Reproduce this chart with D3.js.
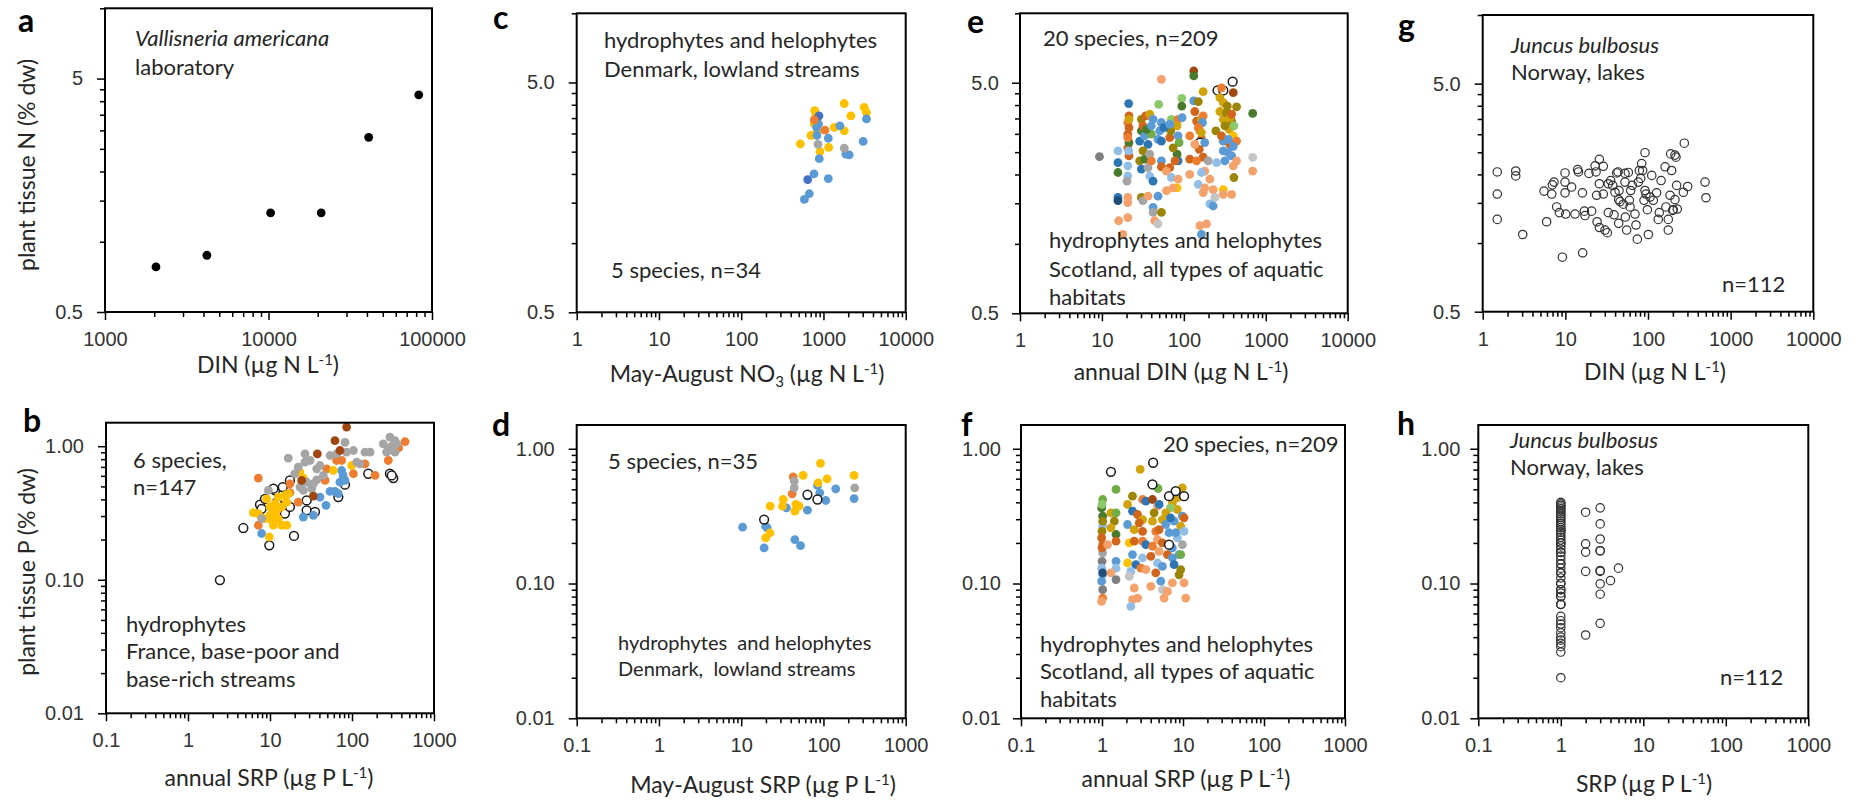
<!DOCTYPE html>
<html>
<head>
  <meta charset="utf-8">
  <title>Plant tissue N and P against water nutrients</title>
  <script src="https://d3js.org/d3.v7.min.js"></script>
  <style>
    body { margin: 0; background: #fff; }
    svg { display: block; font-family: Lato, 'Open Sans', sans-serif; }
    .tick text { font-size: 20px; fill: #333; }
    .tick line { stroke: #000; stroke-width: 1.5px; }
    .note { font-size: 22px; fill: #262626; }
    .atitle { font-size: 23px; fill: #262626; }
    .plabel { font-size: 32px; font-weight: bold; fill: #000; }
  </style>
</head>
<body>
<svg id="chart"></svg>
<script>
// series colours, index = species code used in the data arrays (0 = open circle)
var speciesColors = ["#ffffff", "#ED7D31", "#F4A16C", "#5B9BD5", "#2E75B6", "#1F4E79",
  "#70AD47", "#4A7A2C", "#8CC96A", "#D1A30C", "#9C8506", "#D2651C", "#A0470F",
  "#A5A5A5", "#7F7F7F", "#92BEE6", "#FFC000", "#C4C4C4", "#4472C4"];

// a: Vallisneria americana, DIN vs tissue N
var aData = [[2050, 0.78], [4200, 0.875], [10300, 1.33], [21000, 1.33], [41000, 2.8], [83000, 4.26]];

// b: France, annual SRP vs tissue P  [SRP, P, species]
var bData = [
  [4.73, 0.244, 0], [9.81, 0.181, 0], [19.6, 0.213, 0], [7.55, 0.365, 0], [8.69, 0.404, 0], [11.5, 0.467, 0],
  [14.3, 0.494, 0], [17.5, 0.554, 0], [13.2, 0.404, 0], [15.2, 0.313, 0], [17.5, 0.351, 0], [28.0, 0.393, 0],
  [28.0, 0.331, 0], [35.4, 0.322, 0], [68.1, 0.416, 0], [82.1, 0.515, 0], [158, 0.622, 0], [290, 0.622, 0],
  [319, 0.577, 0], [305, 0.604, 0], [2.45, 0.0995, 0], [11.0, 0.481, 0], [7.91, 0.34, 0], [12.1, 0.38, 0],
  [7.2, 0.577, 1], [17.5, 0.523, 1], [22.1, 0.382, 1], [7.2, 0.256, 1], [49.1, 0.677, 1], [104, 0.622, 1],
  [144, 0.738, 1], [191, 0.604, 1], [277, 0.782, 1], [443, 1.08, 1], [74.8, 0.782, 1], [65.0, 0.782, 1],
  [46.9, 0.554, 1], [370, 0.97, 1], [17.5, 0.45, 1],
  [7.91, 0.222, 3], [25.5, 0.295, 3], [33.8, 0.304, 3], [48.2, 0.361, 3], [40.7, 0.416, 3], [53.9, 0.459, 3],
  [68.1, 0.441, 3], [74.8, 0.658, 3], [82.1, 0.554, 3], [71.3, 0.538, 3], [62.0, 0.459, 3], [78.0, 0.604, 3],
  [6.26, 0.318, 16], [9.10, 0.404, 16], [10.0, 0.351, 16], [11.5, 0.371, 16], [12.1, 0.331, 16], [10.0, 0.304, 16],
  [8.69, 0.287, 16], [10.5, 0.279, 16], [13.9, 0.256, 16], [16.0, 0.256, 16], [9.81, 0.209, 16], [12.6, 0.416, 16],
  [15.2, 0.428, 16], [23.2, 0.640, 16], [25.5, 0.577, 16], [59.2, 0.658, 16], [99.1, 0.717, 16], [16.0, 0.382, 16],
  [11.5, 0.304, 16], [7.20, 0.313, 16], [13.9, 0.351, 16], [11.0, 0.256, 16], [16.7, 0.441, 16], [12.6, 0.287, 16],
  [16.7, 0.813, 13], [26.7, 0.877, 13], [30.8, 0.782, 13], [37.1, 0.677, 13], [44.7, 0.604, 13], [22.1, 0.697, 13],
  [28.0, 0.538, 13], [32.2, 0.481, 13], [9.54, 0.467, 13], [7.91, 0.287, 13], [53.9, 0.852, 13], [65.0, 0.877, 13],
  [82.1, 1.07, 13], [86.0, 0.902, 13], [104, 0.929, 13], [114, 0.760, 13], [144, 0.902, 13], [166, 0.902, 13],
  [241, 1.04, 13], [290, 1.17, 13], [305, 0.955, 13], [334, 0.902, 13], [351, 1.04, 13], [264, 0.902, 13],
  [334, 1.10, 13], [33.8, 0.523, 13], [23.2, 0.494, 13], [25.5, 0.467, 13], [125, 0.738, 13], [40.7, 0.717, 13],
  [26.7, 0.760, 13], [20.0, 0.62, 13], [37.1, 0.56, 13], [305, 1.0, 13], [277, 0.955, 13],
  [24.3, 0.554, 12], [33.8, 0.423, 12], [37.8, 0.877, 12], [62.0, 1.10, 12], [71.3, 0.929, 12], [86.0, 1.39, 12]
];

// c: Denmark, May-August NO3 vs tissue N
var cData = [
  [782, 3.77, 16], [1790, 4.05, 16], [3125, 3.90, 16], [3337, 3.70, 16], [2155, 3.58, 16], [705, 2.94, 16],
  [524, 2.70, 16], [907, 2.50, 16], [1156, 2.61, 16], [1353, 3.19, 16], [1790, 3.08, 16], [774, 3.30, 16],
  [834, 3.03, 16], [810, 3.6, 16],
  [3337, 3.47, 3], [1585, 3.24, 3], [826, 3.19, 3], [834, 2.94, 3], [1145, 2.86, 3], [3040, 2.77, 3],
  [890, 2.33, 3], [1875, 2.44, 3], [2056, 2.42, 3], [767, 2.00, 3], [1145, 1.91, 3], [586, 1.55, 3],
  [673, 1.64, 3], [870, 3.3, 3],
  [882, 3.58, 18], [643, 1.89, 18],
  [774, 3.44, 1], [1042, 3.10, 1],
  [858, 2.69, 13], [1790, 2.59, 13]
];

// d: Denmark, May-August SRP vs tissue P
var dData = [
  [10.4, 0.262, 3], [19.0, 0.184, 3], [20.7, 0.259, 3], [35.5, 0.364, 3], [44.9, 0.212, 3], [52.6, 0.191, 3],
  [63.9, 0.445, 3], [63.9, 0.350, 3], [84.6, 0.534, 3], [90.2, 0.471, 3], [106.7, 0.413, 3], [141, 0.504, 3],
  [236, 0.427, 3], [19.8, 0.266, 3],
  [19.8, 0.218, 16], [22.3, 0.237, 16], [22.5, 0.375, 16], [32.4, 0.420, 16], [31.8, 0.375, 16], [44.9, 0.344, 16],
  [50.6, 0.375, 16], [56.6, 0.634, 16], [92.0, 0.778, 16], [110.8, 0.598, 16], [236, 0.634, 16], [46.2, 0.386, 16],
  [86.1, 0.559, 16],
  [42.8, 0.619, 1], [41.6, 0.463, 1],
  [44.1, 0.575, 13], [44.1, 0.513, 13], [240, 0.513, 13],
  [19.0, 0.298, 0], [63.9, 0.457, 0], [84.6, 0.420, 0]
];

// e: Scotland, annual DIN vs tissue N
var eData = [
  [53.2, 5.17, 2], [132, 5.62, 12], [132, 5.35, 7], [258, 4.63, 0], [303, 4.63, 0], [394, 5.05, 0],
  [401, 4.53, 12], [288, 4.75, 1], [21.2, 4.06, 4], [49.3, 4.03, 8], [94.4, 4.28, 8], [94.4, 3.96, 7],
  [132, 4.17, 3], [150, 4.14, 10], [172, 4.57, 9], [275, 4.31, 9], [303, 4.10, 9], [339, 3.96, 10],
  [440, 3.93, 10], [692, 3.68, 7], [20.7, 3.36, 1], [21.4, 3.19, 11], [30.3, 3.47, 10], [34.2, 3.59, 11],
  [38.3, 3.65, 9], [42.1, 3.47, 3], [53.2, 3.36, 3], [70.5, 3.47, 8], [85.1, 3.47, 1], [82.6, 3.25, 9],
  [95.3, 3.53, 3], [143, 3.41, 11], [164, 3.47, 9], [172, 3.59, 1], [157, 3.09, 1], [169, 3.36, 3],
  [303, 3.47, 9], [383, 3.41, 10], [358, 3.14, 9], [317, 3.25, 10], [409, 3.25, 8], [246, 3.09, 10],
  [401, 2.94, 16], [440, 2.79, 1], [30.3, 3.09, 7], [28.9, 2.79, 4], [33.2, 2.94, 3], [40.1, 2.99, 6],
  [48.4, 2.84, 3], [53.2, 2.79, 4], [67.3, 2.89, 11], [69.2, 3.09, 10], [85.1, 2.94, 3], [87.5, 2.75, 6],
  [118, 2.94, 1], [164, 2.84, 11], [157, 2.75, 0], [154, 2.57, 11], [180, 2.75, 3], [303, 2.79, 3],
  [365, 2.70, 11], [9.33, 2.39, 14], [15.7, 2.53, 15], [20.7, 2.61, 11], [21.4, 2.75, 7], [21.4, 2.41, 11],
  [15.7, 2.25, 4], [15.7, 2.04, 7], [20.7, 2.18, 15], [20.7, 1.97, 15], [20.2, 1.87, 13], [28.9, 2.29, 10],
  [30.3, 2.11, 4], [36.5, 2.14, 13], [38.3, 1.97, 15], [42.1, 1.87, 4], [33.2, 2.33, 7], [53.2, 2.29, 3],
  [53.2, 2.16, 11], [67.3, 2.14, 11], [70.5, 1.94, 15], [85.1, 2.29, 4], [82.6, 2.45, 7], [85.1, 1.91, 2],
  [82.6, 1.75, 16], [118, 2.33, 11], [118, 2.00, 2], [150, 1.81, 15], [172, 2.38, 11], [180, 2.07, 2],
  [198, 2.29, 13], [208, 1.91, 2], [164, 2.04, 15], [303, 2.53, 3], [348, 2.49, 3], [383, 2.41, 3],
  [401, 2.18, 2], [409, 1.94, 10], [440, 2.29, 2], [692, 2.37, 17], [692, 2.07, 2], [317, 2.29, 3],
  [251, 2.25, 15], [15.7, 1.59, 4], [15.7, 1.54, 5], [20.7, 1.59, 2], [20.7, 1.51, 2], [30.3, 1.59, 10],
  [31.7, 1.54, 13], [36.5, 1.61, 2], [42.1, 1.44, 3], [42.1, 1.37, 13], [48.4, 1.61, 3], [53.2, 1.37, 10],
  [61.3, 1.70, 2], [73.9, 1.75, 2], [172, 1.67, 2], [180, 1.75, 2], [228, 1.72, 2], [239, 1.59, 17],
  [303, 1.72, 16], [303, 1.64, 2], [383, 1.64, 2], [208, 1.49, 15], [228, 1.46, 3], [16.0, 1.26, 2],
  [20.7, 1.30, 2], [44.1, 1.26, 2], [48.4, 1.22, 17], [157, 1.20, 2], [189, 1.22, 2], [164, 1.10, 3],
  [18.0, 1.10, 2], [21.4, 3.59, 11], [21.4, 3.47, 9], [20.7, 2.99, 11], [20.7, 2.89, 1], [21.2, 2.53, 15],
  [31.7, 3.25, 11], [35.0, 3.14, 7], [40.1, 3.25, 3], [36.5, 2.70, 4], [31.7, 2.53, 10], [38.3, 2.45, 13],
  [40.1, 2.29, 1], [50.7, 3.09, 3], [57.0, 3.19, 4], [67.3, 3.30, 3], [73.9, 2.61, 10], [78.0, 2.29, 11],
  [61.3, 2.07, 2], [136, 3.75, 11], [150, 3.19, 1], [164, 3.04, 9], [136, 2.70, 2], [143, 2.29, 1],
  [275, 3.75, 9], [330, 3.70, 10], [365, 3.53, 9], [288, 2.94, 11], [348, 2.84, 3], [401, 2.65, 3],
  [383, 3.65, 11]
];

// f: Scotland, annual SRP vs tissue P
var fData = [
  [1.02, 0.420, 6], [0.99, 0.364, 7], [1.02, 0.316, 7], [1.02, 0.266, 15], [1.0, 0.244, 10], [0.99, 0.218, 11],
  [1.02, 0.194, 11], [1.02, 0.169, 13], [1.0, 0.146, 14], [0.99, 0.130, 15], [1.02, 0.116, 15], [0.99, 0.104, 3],
  [1.02, 0.0900, 14], [1.02, 0.078, 1], [0.99, 0.0738, 2], [1.0, 0.386, 8], [1.02, 0.290, 10], [1.0, 0.184, 11],
  [1.02, 0.120, 5],
  [1.29, 0.334, 9], [1.49, 0.334, 6], [1.42, 0.290, 10], [1.49, 0.231, 7], [1.29, 0.259, 9], [1.49, 0.206, 11],
  [1.17, 0.194, 2], [1.49, 0.146, 3], [1.49, 0.130, 15], [1.29, 0.120, 2], [1.49, 0.107, 14], [1.49, 0.499, 6],
  [2.38, 0.445, 10], [3.17, 0.420, 1], [2.07, 0.386, 9], [2.38, 0.344, 4], [2.75, 0.325, 11], [3.17, 0.298, 9],
  [2.07, 0.274, 3], [2.50, 0.251, 9], [2.88, 0.282, 11], [3.17, 0.244, 11], [2.17, 0.200, 16], [2.50, 0.206, 11],
  [3.17, 0.206, 1], [3.48, 0.194, 4], [2.38, 0.164, 3], [2.07, 0.142, 16], [2.62, 0.138, 4], [3.17, 0.155, 15],
  [2.27, 0.123, 15], [3.02, 0.130, 1], [3.48, 0.127, 2], [2.17, 0.113, 17], [2.50, 0.0926, 2], [2.38, 0.0759, 2],
  [2.75, 0.078, 2], [2.27, 0.0676, 15], [4.01, 0.0953, 2], [3.48, 0.408, 4], [2.96, 0.702, 9],
  [4.20, 0.420, 12], [4.84, 0.375, 2], [4.40, 0.334, 10], [5.07, 0.386, 4], [4.20, 0.290, 9], [5.57, 0.298, 9],
  [4.61, 0.244, 1], [4.84, 0.212, 2], [5.57, 0.200, 11], [4.20, 0.189, 1], [5.07, 0.173, 2], [4.01, 0.159, 11],
  [4.84, 0.142, 15], [4.61, 0.120, 11], [5.57, 0.134, 3], [6.13, 0.274, 3], [5.32, 0.104, 3], [5.57, 0.0900, 17],
  [6.43, 0.0875, 2], [5.85, 0.078, 2], [4.93, 0.507, 6], [5.07, 0.251, 11], [6.43, 0.164, 11],
  [7.40, 0.397, 9], [8.53, 0.354, 9], [9.82, 0.316, 3], [7.76, 0.290, 3], [9.37, 0.266, 9], [6.73, 0.238, 3],
  [10.3, 0.244, 15], [8.53, 0.218, 15], [7.40, 0.184, 3], [9.82, 0.194, 13], [8.94, 0.164, 3], [7.40, 0.155, 3],
  [7.76, 0.138, 4], [9.37, 0.127, 10], [8.94, 0.116, 10], [10.3, 0.101, 2], [7.40, 0.101, 2], [10.8, 0.078, 2],
  [9.37, 0.164, 6], [10.3, 0.307, 11], [8.53, 0.433, 9], [7.0, 0.364, 8], [6.13, 0.334, 9], [7.0, 0.307, 4],
  [8.13, 0.238, 3], [9.82, 0.513, 9],
  [1.29, 0.674, 0], [4.28, 0.787, 0], [4.20, 0.543, 0], [6.73, 0.445, 0], [8.13, 0.485, 0], [10.3, 0.445, 0],
  [6.73, 0.194, 0]
];

// g: Juncus bulbosus, Norway lakes, DIN vs tissue N
var gData = [
  [1.50, 2.05], [1.50, 1.64], [1.50, 1.27], [2.51, 2.07], [2.51, 1.97], [3.05, 1.09], [5.52, 1.69], [5.94, 1.24],
  [6.84, 1.64], [6.96, 1.80], [7.29, 1.85], [7.85, 1.44], [8.46, 1.36], [9.20, 0.867], [9.91, 2.03], [9.91, 1.85],
  [9.91, 1.66], [10.1, 1.34], [11.9, 1.76], [13.1, 1.34], [14.1, 2.10], [14.4, 2.05], [16.1, 1.66], [16.2, 0.906],
  [17.0, 1.38], [17.3, 1.32], [19.3, 2.02], [20.8, 1.38], [22.9, 2.18], [23.5, 2.05], [23.9, 1.62], [24.2, 1.24],
  [25.8, 2.33], [25.8, 1.82], [28.8, 2.17], [28.8, 1.64], [30.2, 1.14], [32.2, 1.11], [33.1, 1.82], [33.1, 1.36],
  [35.3, 1.88], [37.4, 1.79], [38.8, 1.33], [39.9, 1.67], [41.8, 2.03], [43.4, 2.05], [44.2, 1.55], [44.2, 1.22],
  [44.6, 1.70], [45.9, 1.52], [50.3, 1.48], [52.7, 2.02], [52.7, 1.85], [53.2, 1.30], [55.2, 1.14], [57.8, 2.04],
  [59.5, 1.54], [60.6, 1.44], [61.7, 1.70], [64.6, 1.79], [69.6, 1.34], [71.6, 1.20], [74.3, 1.04], [76.4, 1.85],
  [78.6, 2.08], [81.5, 1.92], [83.8, 2.23], [86.2, 2.08], [92.0, 2.49], [89.5, 1.54], [92.0, 1.70], [94.6, 1.64],
  [98.2, 1.40], [106, 1.59], [111, 1.98], [116, 1.54], [127, 1.66], [133, 1.27], [137, 1.36], [144, 1.88],
  [161, 2.16], [165, 1.44], [176, 1.27], [176, 1.14], [185, 1.62], [188, 2.46], [193, 2.08], [199, 1.39],
  [202, 1.40], [212, 2.43], [212, 1.55], [218, 2.38], [222, 1.79], [226, 1.41], [268, 1.67], [275, 2.74],
  [302, 1.77], [490, 1.85], [503, 1.58], [101, 1.09], [25.8, 1.17]
];

// h: Juncus bulbosus, Norway lakes, SRP vs tissue P
var hData = [
  [1, 0.40], [1, 0.39], [1, 0.38], [1, 0.37], [1, 0.36], [1, 0.35], [1, 0.34], [1, 0.33], [1, 0.32], [1, 0.31],
  [1, 0.30], [1, 0.29], [1, 0.28], [1, 0.27], [1, 0.26], [1, 0.25], [1, 0.25], [1, 0.24], [1, 0.23], [1, 0.22],
  [1, 0.21], [1, 0.20], [1, 0.20], [1, 0.19], [1, 0.18], [1, 0.17], [1, 0.17], [1, 0.16], [1, 0.15], [1, 0.14],
  [1, 0.14], [1, 0.13], [1, 0.12], [1, 0.12], [1, 0.12], [1, 0.11], [1, 0.10], [1, 0.10], [1, 0.09], [1, 0.09],
  [1, 0.085], [1, 0.08], [1, 0.08], [1, 0.07], [1, 0.07], [1, 0.07], [1, 0.057], [1, 0.053], [1, 0.05], [1, 0.047],
  [1, 0.043], [1, 0.04], [1, 0.038], [1, 0.036], [1, 0.034], [1, 0.031], [1, 0.02],
  [2, 0.338], [2, 0.197], [2, 0.171], [2, 0.123], [2, 0.0415],
  [3, 0.364], [3, 0.277], [3, 0.214], [3, 0.175], [3, 0.175], [3, 0.125], [3, 0.123], [3, 0.0995], [3, 0.0833], [3, 0.0507],
  [4, 0.105], [5, 0.130]
];

var nMajor = [0.5, 5];
var pMajor = [0.01, 0.1, 1];
var nxMajor = [1, 10, 100, 1000, 10000];
var pxMajor = [0.1, 1, 10, 100, 1000];

var W = 1862, H = 802;
var svg = d3.select("#chart").attr("width", W).attr("height", H);
svg.append("rect").attr("width", W).attr("height", H).attr("fill", "#fff");

var fmtN = d3.format(".1f"), fmtP = d3.format(".2f");
var fmtX = d => d < 1 ? String(d) : d3.format("d")(d);

var panels = [
  { letter: "a", lp: [18, 32], data: aData, kind: "black", box: [105, 8.3, 432, 312], xDom: [1000, 100000], yDom: [0.5, 10],
    xMajor: [1000, 10000, 100000], yMajor: nMajor, yFmt: d3.format("~g"), yGap: 14,
    title: [["DIN (\u00b5g N L", ""], ["-1", "sup"], [")", ""]], tp: [268, 373],
    ytitle: "plant tissue N (% dw)", ytp: [35, 165],
    notes: [{ t: "Vallisneria americana", x: 135, y: 46, it: true }, { t: "laboratory", x: 135, y: 75 }] },
  { letter: "b", lp: [23, 432], data: bData, kind: "color", box: [106, 422.7, 434, 713.3], xDom: [0.1, 1000], yDom: [0.01, 1.5],
    xMajor: pxMajor, yMajor: pMajor, yFmt: fmtP, yGap: 14,
    title: [["annual SRP (\u00b5g P L", ""], ["-1", "sup"], [")", ""]], tp: [269, 786],
    ytitle: "plant tissue P (% dw)", ytp: [35, 572],
    notes: [{ t: "6 species,", x: 133, y: 468 }, { t: "n=147", x: 133, y: 495 },
      { t: "hydrophytes", x: 126, y: 632 }, { t: "France, base-poor and", x: 126, y: 659 }, { t: "base-rich streams", x: 126, y: 687 }] },
  { letter: "c", lp: [493, 29], data: cData, kind: "color", box: [576.7, 13.3, 905.7, 312.3], xDom: [1, 10000], yDom: [0.5, 10],
    xMajor: nxMajor, yMajor: nMajor, yFmt: fmtN, yGap: 14,
    title: [["May-August NO", ""], ["3", "sub"], [" (\u00b5g N L", ""], ["-1", "sup"], [")", ""]], tp: [747, 382],
    notes: [{ t: "hydrophytes and helophytes", x: 604, y: 48 }, { t: "Denmark, lowland streams", x: 604, y: 77 },
      { t: "5 species, n=34", x: 611, y: 278 }] },
  { letter: "d", lp: [492, 436], data: dData, kind: "color", box: [576.7, 425, 905.7, 718.3], xDom: [0.1, 1000], yDom: [0.01, 1.5],
    xMajor: pxMajor, yMajor: pMajor, yFmt: fmtP, yGap: 14,
    title: [["May-August SRP (\u00b5g P L", ""], ["-1", "sup"], [")", ""]], tp: [763, 793],
    notes: [{ t: "5 species, n=35", x: 608, y: 469 },
      { t: "hydrophytes  and helophytes", x: 618, y: 650, small: true }, { t: "Denmark,  lowland streams", x: 618, y: 676, small: true }] },
  { letter: "e", lp: [967, 33], data: eData, kind: "color", box: [1020, 13.3, 1347.7, 313.3], xDom: [1, 10000], yDom: [0.5, 10],
    xMajor: nxMajor, yMajor: nMajor, yFmt: fmtN, yGap: 13,
    title: [["annual DIN (\u00b5g N L", ""], ["-1", "sup"], [")", ""]], tp: [1181, 380],
    notes: [{ t: "20 species, n=209", x: 1043, y: 46 }, { t: "hydrophytes and helophytes", x: 1049, y: 248 },
      { t: "Scotland, all types of aquatic", x: 1049, y: 277 }, { t: "habitats", x: 1049, y: 305 }] },
  { letter: "f", lp: [961, 436], data: fData, kind: "color", box: [1021, 425, 1345, 718.3], xDom: [0.1, 1000], yDom: [0.01, 1.5],
    xMajor: pxMajor, yMajor: pMajor, yFmt: fmtP, yGap: 12,
    title: [["annual SRP (\u00b5g P L", ""], ["-1", "sup"], [")", ""]], tp: [1186, 787],
    notes: [{ t: "20 species, n=209", x: 1163, y: 452 }, { t: "hydrophytes and helophytes", x: 1040, y: 652 },
      { t: "Scotland, all types of aquatic", x: 1040, y: 679 }, { t: "habitats", x: 1040, y: 707 }] },
  { letter: "g", lp: [1398, 37], data: gData, kind: "open", box: [1482.7, 15, 1813.3, 311.7], xDom: [1, 10000], yDom: [0.5, 10],
    xMajor: nxMajor, yMajor: nMajor, yFmt: fmtN, yGap: 14,
    title: [["DIN (\u00b5g N L", ""], ["-1", "sup"], [")", ""]], tp: [1655, 380],
    notes: [{ t: "Juncus bulbosus", x: 1511, y: 53, it: true }, { t: "Norway, lakes", x: 1511, y: 80 },
      { t: "n=112", x: 1722, y: 292 }] },
  { letter: "h", lp: [1397, 435], data: hData, kind: "open", box: [1478.3, 425, 1808.3, 718.3], xDom: [0.1, 1000], yDom: [0.01, 1.5],
    xMajor: pxMajor, yMajor: pMajor, yFmt: fmtP, yGap: 10,
    title: [["SRP (\u00b5g P L", ""], ["-1", "sup"], [")", ""]], tp: [1644, 792],
    notes: [{ t: "Juncus bulbosus", x: 1510, y: 448, it: true }, { t: "Norway, lakes", x: 1510, y: 475 },
      { t: "n=112", x: 1720, y: 685 }] }
];

// minor log ticks: k * major for k = 2..9 inside the domain
function minorTicks(majors, dom) {
  var out = [];
  majors.forEach(m => {
    for (var k = 2; k <= 9; k++) {
      var v = +(m * k).toPrecision(6);
      if (v > dom[0] && v <= dom[1] * 1.0001) out.push(v);
    }
  });
  return out;
}

function richText(sel, parts) {
  var shift = 0;
  parts.forEach(p => {
    var t = sel.append("tspan").text(p[0]);
    if (p[1] === "sup") { t.attr("font-size", "15px").attr("dy", -8 - shift); shift = -8; }
    else if (p[1] === "sub") { t.attr("font-size", "15px").attr("dy", 5 - shift); shift = 5; }
    else { if (shift) t.attr("dy", -shift); shift = 0; }
  });
}

panels.forEach(p => {
  var [l, t, r, b] = p.box;
  var x = d3.scaleLog().domain(p.xDom).range([l, r]);
  var y = d3.scaleLog().domain(p.yDom).range([b, t]);
  var g = svg.append("g");

  // axes: major ticks with labels, minor ticks without
  g.append("g").attr("transform", `translate(0,${b})`)
    .call(d3.axisBottom(x).tickValues(minorTicks(p.xMajor, p.xDom)).tickSize(5).tickFormat(""))
    .call(s => { s.select(".domain").remove(); s.selectAll("text").remove(); });
  g.append("g").attr("transform", `translate(0,${b})`)
    .call(d3.axisBottom(x).tickValues(p.xMajor).tickSize(8).tickPadding(12).tickFormat(fmtX))
    .call(s => s.select(".domain").remove());
  g.append("g").attr("transform", `translate(${l},0)`)
    .call(d3.axisLeft(y).tickValues(minorTicks(p.yMajor, p.yDom)).tickSize(5).tickFormat(""))
    .call(s => { s.select(".domain").remove(); s.selectAll("text").remove(); });
  g.append("g").attr("transform", `translate(${l},0)`)
    .call(d3.axisLeft(y).tickValues(p.yMajor).tickSize(8).tickPadding(p.yGap).tickFormat(p.yFmt))
    .call(s => s.select(".domain").remove());

  // points
  g.append("g").selectAll("circle")
    .data(p.data)
    .join("circle")
    .attr("cx", d => x(d[0]))
    .attr("cy", d => y(d[1]))
    .attr("r", p.kind === "open" ? 4.2 : 4.4)
    .attr("fill", d => p.kind === "black" ? "#000" : p.kind === "open" ? "none" : speciesColors[d[2]])
    .attr("stroke", d => p.kind === "open" ? "#333" : (p.kind === "color" && d[2] === 0) ? "#1a1a1a" : "none")
    .attr("stroke-width", p.kind === "open" ? 1.2 : 1.5);

  g.append("rect")
    .attr("x", l).attr("y", t).attr("width", r - l).attr("height", b - t)
    .attr("fill", "none").attr("stroke", "#000").attr("stroke-width", 2);

  // in-panel notes
  p.notes.forEach(n => {
    g.append("text").attr("class", "note")
      .attr("x", n.x).attr("y", n.y)
      .style("font-style", n.it ? "italic" : null)
      .style("font-size", n.small ? "20px" : null)
      .attr("xml:space", "preserve")
      .text(n.t);
  });

  var xt = g.append("text").attr("class", "atitle")
    .attr("x", p.tp[0]).attr("y", p.tp[1]).attr("text-anchor", "middle");
  richText(xt, p.title);

  if (p.ytitle) {
    g.append("text").attr("class", "atitle")
      .attr("transform", `translate(${p.ytp[0]},${p.ytp[1]}) rotate(-90)`)
      .attr("text-anchor", "middle")
      .text(p.ytitle);
  }

  g.append("text").attr("class", "plabel").attr("x", p.lp[0]).attr("y", p.lp[1]).text(p.letter);
});
</script>
</body>
</html>
